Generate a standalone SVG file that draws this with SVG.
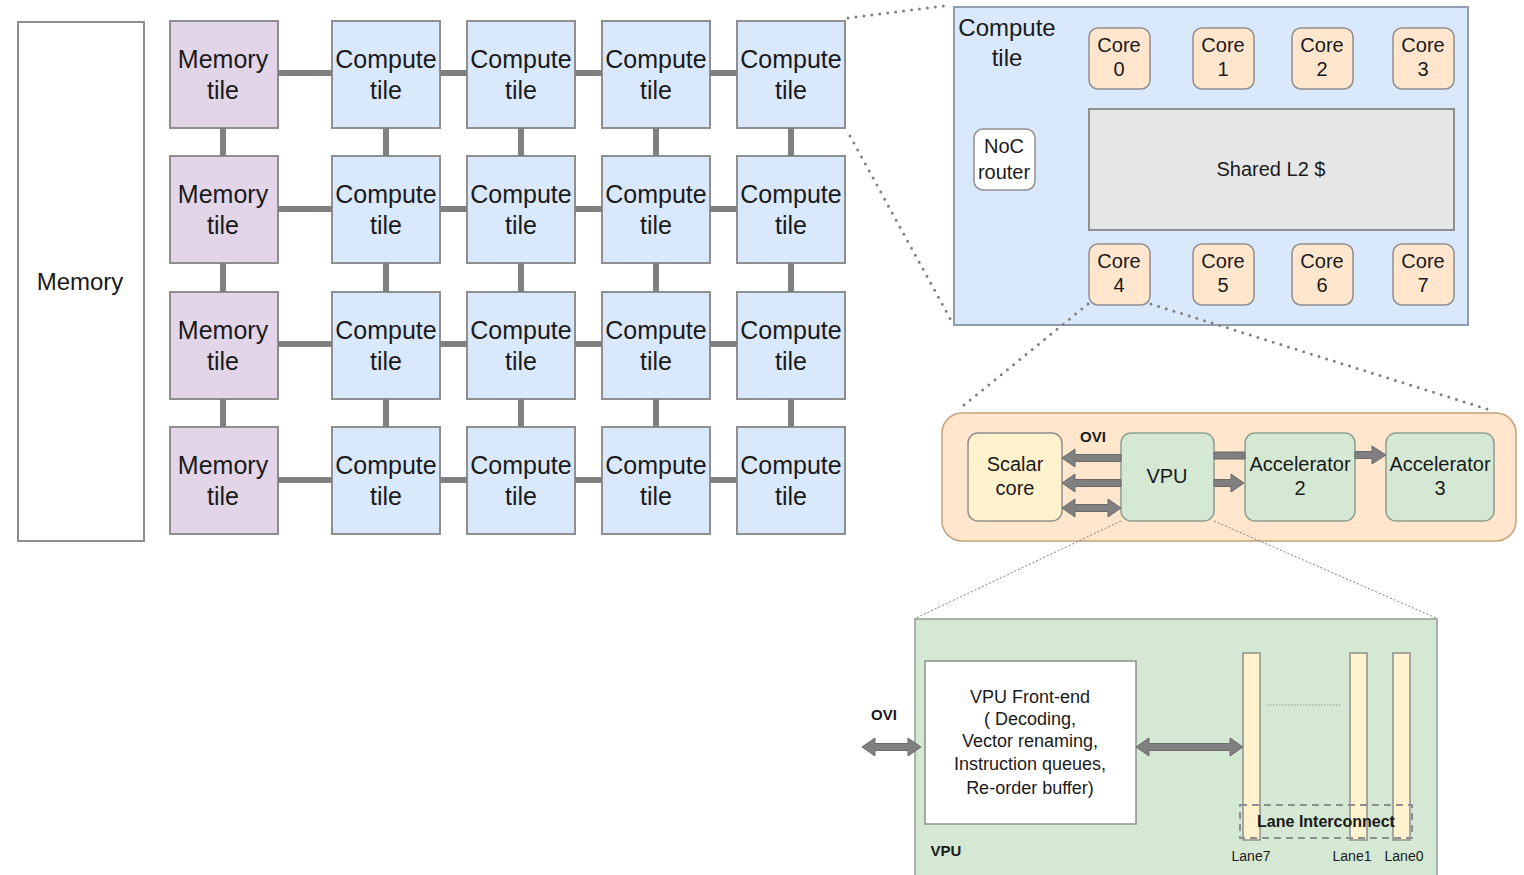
<svg xmlns="http://www.w3.org/2000/svg" width="1524" height="875" viewBox="0 0 1524 875">
<style>
text{font-family:"Liberation Sans",Arial,sans-serif;fill:#1a1a1a;text-anchor:middle}
.t25{font-size:25px}.t24{font-size:24px}.t20{font-size:20px}.t18{font-size:18px}
.b15{font-size:15px;font-weight:bold}.b16{font-size:16px;font-weight:bold}.s14{font-size:14px}
.mem{fill:#e1d5e7;stroke:#8f8f8f;stroke-width:2}
.cmp{fill:#dae8fc;stroke:#8f8f8f;stroke-width:2}
.core{fill:#ffe6cc;stroke:#8f8f8f;stroke-width:1.5}
.grn{fill:#d5e8d4;stroke:#8f9f8f;stroke-width:1.5}
.yel{fill:#fff2cc;stroke:#8f8f8f;stroke-width:1.5}
.link{stroke:#808080;stroke-width:6;fill:none}
.dots{stroke:#808080;stroke-width:3;stroke-dasharray:0 8;stroke-linecap:round;fill:none}
.fine{stroke:#808080;stroke-width:1;stroke-dasharray:2 2;fill:none}
.arr{fill:#808080;stroke:#6a6a6a;stroke-width:1}
</style>
<g id="memory">
<rect x="18" y="22" width="126" height="519" fill="#fff" stroke="#8f8f8f" stroke-width="2"/>
<text class="t24" x="80" y="290">Memory</text>
</g>
<g id="grid">
<g id="mem-r0"><rect class="mem" x="170" y="21" width="108" height="107"/><text class="t25" x="223" y="68">Memory</text><text class="t25" x="223" y="99">tile</text></g>
<g id="mem-r1"><rect class="mem" x="170" y="156" width="108" height="107"/><text class="t25" x="223" y="203">Memory</text><text class="t25" x="223" y="234">tile</text></g>
<g id="mem-r2"><rect class="mem" x="170" y="292" width="108" height="107"/><text class="t25" x="223" y="339">Memory</text><text class="t25" x="223" y="370">tile</text></g>
<g id="mem-r3"><rect class="mem" x="170" y="427" width="108" height="107"/><text class="t25" x="223" y="474">Memory</text><text class="t25" x="223" y="505">tile</text></g>

<g id="c-r0-0"><rect class="cmp" x="332" y="21" width="108" height="107"/><text class="t25" x="386" y="68">Compute</text><text class="t25" x="386" y="99">tile</text></g>
<g id="c-r0-1"><rect class="cmp" x="467" y="21" width="108" height="107"/><text class="t25" x="521" y="68">Compute</text><text class="t25" x="521" y="99">tile</text></g>
<g id="c-r0-2"><rect class="cmp" x="602" y="21" width="108" height="107"/><text class="t25" x="656" y="68">Compute</text><text class="t25" x="656" y="99">tile</text></g>
<g id="c-r0-3"><rect class="cmp" x="737" y="21" width="108" height="107"/><text class="t25" x="791" y="68">Compute</text><text class="t25" x="791" y="99">tile</text></g>

<g id="c-r1-0"><rect class="cmp" x="332" y="156" width="108" height="107"/><text class="t25" x="386" y="203">Compute</text><text class="t25" x="386" y="234">tile</text></g>
<g id="c-r1-1"><rect class="cmp" x="467" y="156" width="108" height="107"/><text class="t25" x="521" y="203">Compute</text><text class="t25" x="521" y="234">tile</text></g>
<g id="c-r1-2"><rect class="cmp" x="602" y="156" width="108" height="107"/><text class="t25" x="656" y="203">Compute</text><text class="t25" x="656" y="234">tile</text></g>
<g id="c-r1-3"><rect class="cmp" x="737" y="156" width="108" height="107"/><text class="t25" x="791" y="203">Compute</text><text class="t25" x="791" y="234">tile</text></g>

<g id="c-r2-0"><rect class="cmp" x="332" y="292" width="108" height="107"/><text class="t25" x="386" y="339">Compute</text><text class="t25" x="386" y="370">tile</text></g>
<g id="c-r2-1"><rect class="cmp" x="467" y="292" width="108" height="107"/><text class="t25" x="521" y="339">Compute</text><text class="t25" x="521" y="370">tile</text></g>
<g id="c-r2-2"><rect class="cmp" x="602" y="292" width="108" height="107"/><text class="t25" x="656" y="339">Compute</text><text class="t25" x="656" y="370">tile</text></g>
<g id="c-r2-3"><rect class="cmp" x="737" y="292" width="108" height="107"/><text class="t25" x="791" y="339">Compute</text><text class="t25" x="791" y="370">tile</text></g>

<g id="c-r3-0"><rect class="cmp" x="332" y="427" width="108" height="107"/><text class="t25" x="386" y="474">Compute</text><text class="t25" x="386" y="505">tile</text></g>
<g id="c-r3-1"><rect class="cmp" x="467" y="427" width="108" height="107"/><text class="t25" x="521" y="474">Compute</text><text class="t25" x="521" y="505">tile</text></g>
<g id="c-r3-2"><rect class="cmp" x="602" y="427" width="108" height="107"/><text class="t25" x="656" y="474">Compute</text><text class="t25" x="656" y="505">tile</text></g>
<g id="c-r3-3"><rect class="cmp" x="737" y="427" width="108" height="107"/><text class="t25" x="791" y="474">Compute</text><text class="t25" x="791" y="505">tile</text></g>
</g>
<g id="compute-detail">
<rect x="954" y="7" width="514" height="318" fill="#dae8fc" stroke="#8f9db0" stroke-width="2"/>
<text class="t24" x="1007" y="36">Compute</text><text class="t24" x="1007" y="66">tile</text>
<g id="core0"><rect class="core" x="1089" y="28" width="61" height="61" rx="9"/><text class="t20" x="1119" y="52">Core</text><text class="t20" x="1119" y="76">0</text></g>
<g id="core1"><rect class="core" x="1193" y="28" width="61" height="61" rx="9"/><text class="t20" x="1223" y="52">Core</text><text class="t20" x="1223" y="76">1</text></g>
<g id="core2"><rect class="core" x="1292" y="28" width="61" height="61" rx="9"/><text class="t20" x="1322" y="52">Core</text><text class="t20" x="1322" y="76">2</text></g>
<g id="core3"><rect class="core" x="1393" y="28" width="61" height="61" rx="9"/><text class="t20" x="1423" y="52">Core</text><text class="t20" x="1423" y="76">3</text></g>
<g id="l2"><rect x="1089" y="109" width="365" height="121" fill="#e6e6e6" stroke="#8f8f8f" stroke-width="2"/><text class="t20" x="1271" y="176">Shared L2 $</text></g>
<g id="noc"><rect x="974" y="129" width="61" height="61" rx="9" fill="#fff" stroke="#8f8f8f" stroke-width="1.5"/><text class="t20" x="1004" y="153">NoC</text><text class="t20" x="1004" y="179">router</text></g>
<g id="core4"><rect class="core" x="1089" y="244" width="61" height="61" rx="9"/><text class="t20" x="1119" y="268">Core</text><text class="t20" x="1119" y="292">4</text></g>
<g id="core5"><rect class="core" x="1193" y="244" width="61" height="61" rx="9"/><text class="t20" x="1223" y="268">Core</text><text class="t20" x="1223" y="292">5</text></g>
<g id="core6"><rect class="core" x="1292" y="244" width="61" height="61" rx="9"/><text class="t20" x="1322" y="268">Core</text><text class="t20" x="1322" y="292">6</text></g>
<g id="core7"><rect class="core" x="1393" y="244" width="61" height="61" rx="9"/><text class="t20" x="1423" y="268">Core</text><text class="t20" x="1423" y="292">7</text></g>
</g>
<g id="core-detail">
<rect x="942" y="413" width="574" height="128" rx="20" fill="#ffe6cc" stroke="#c8a07a" stroke-width="1.5"/>
<g id="scalar"><rect class="yel" x="968" y="433" width="94" height="88" rx="10"/><text class="t20" x="1015" y="471">Scalar</text><text class="t20" x="1015" y="495">core</text></g>
<g id="vpu"><rect class="grn" x="1121" y="433" width="93" height="88" rx="10"/><text class="t20" x="1167" y="483">VPU</text></g>
<g id="acc2"><rect class="grn" x="1245" y="433" width="110" height="88" rx="10"/><text class="t20" x="1300" y="471">Accelerator</text><text class="t20" x="1300" y="495">2</text></g>
<g id="acc3"><rect class="grn" x="1386" y="433" width="108" height="88" rx="10"/><text class="t20" x="1440" y="471">Accelerator</text><text class="t20" x="1440" y="495">3</text></g>
<text class="b15" x="1093" y="442">OVI</text>
</g>
<g id="vpu-detail">
<rect x="915" y="619" width="522" height="262" fill="#d5e8d4" stroke="#8f9f8f" stroke-width="1.5"/>
<g id="frontend"><rect x="925" y="661" width="211" height="163" fill="#fff" stroke="#8f8f8f" stroke-width="1.5"/>
<text class="t18" x="1030" y="703">VPU Front-end</text>
<text class="t18" x="1030" y="725">( Decoding,</text>
<text class="t18" x="1030" y="747">Vector renaming,</text>
<text class="t18" x="1030" y="770">Instruction queues,</text>
<text class="t18" x="1030" y="794">Re-order buffer)</text></g>
<text class="b15" x="884" y="720">OVI</text>
<g id="lane7"><rect class="yel" x="1243" y="653" width="17" height="187"/></g>
<g id="lane1"><rect class="yel" x="1350" y="653" width="17" height="187"/></g>
<g id="lane0"><rect class="yel" x="1393" y="653" width="17" height="187"/></g>
<path d="M1267 705H1342" stroke="#9a9a9a" stroke-width="1" stroke-dasharray="1.5 1.5"/>
<g id="lane-ic"><rect x="1240" y="805" width="172" height="33" fill="none" stroke="#8f8f8f" stroke-width="2" stroke-dasharray="7 5"/>
<text class="b16" x="1326" y="827">Lane Interconnect</text></g>
<text class="s14" x="1251" y="861">Lane7</text>
<text class="s14" x="1352" y="861">Lane1</text>
<text class="s14" x="1404" y="861">Lane0</text>
<text class="b15" x="946" y="856">VPU</text>
</g>
<g id="connectors">
<path class="link" d="M278 73H332M440 73H467M575 73H602M710 73H737M278 209H332M440 209H467M575 209H602M710 209H737M278 344H332M440 344H467M575 344H602M710 344H737M278 480H332M440 480H467M575 480H602M710 480H737"/>
<path class="link" d="M223 128V156M223 263V292M223 399V427M386 128V156M386 263V292M386 399V427M521 128V156M521 263V292M521 399V427M656 128V156M656 263V292M656 399V427M791 128V156M791 263V292M791 399V427"/>
<path class="dots" d="M848 18L944 6"/>
<path class="dots" d="M850 136L952 322"/>
<path class="dots" d="M1088 304L958 410"/>
<path class="dots" d="M1151 304L1490 410"/>
<path class="fine" d="M1121 521L916 618"/>
<path class="fine" d="M1214 521L1436 618"/>
<path class="arr" d="M1121 454.5H1075V449L1062 458L1075 467V461.5H1121Z"/>
<path class="arr" d="M1121 479.5H1075V474L1062 483L1075 492V486.5H1121Z"/>
<path class="arr" d="M1108 504.5H1075V499L1062 508L1075 517V511.5H1108V517L1121 508L1108 499Z"/>
<path class="arr" d="M1214 452H1245V459H1214Z"/>
<path class="arr" d="M1214 479.5H1231V474L1244 483L1231 492V486.5H1214Z"/>
<path class="arr" d="M1355 451.5H1372V446L1386 455L1372 464V458.5H1355Z"/>
<path class="arr" d="M875 743.5H908V738L921 747L908 756V750.5H875V756L862 747L875 738Z"/>
<path class="arr" d="M1149 743.5H1230V738L1243 747L1230 756V750.5H1149V756L1136 747L1149 738Z"/>
</g>
</svg>
